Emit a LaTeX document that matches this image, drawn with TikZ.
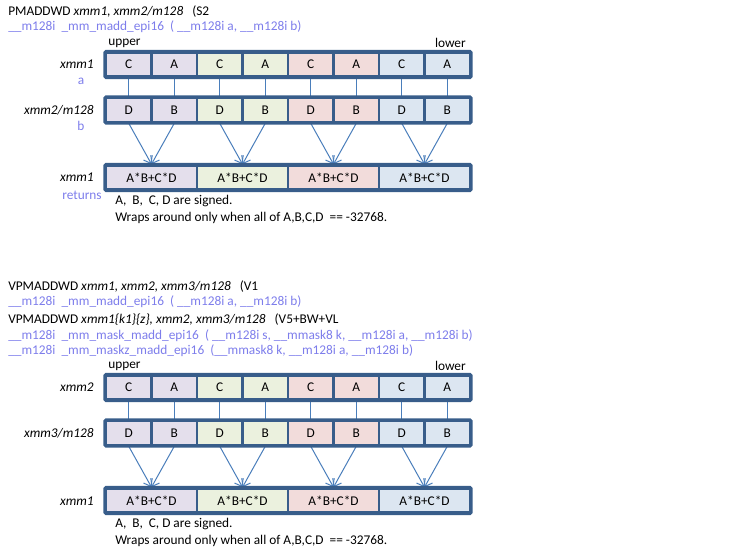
\documentclass[tikz,border=0pt]{standalone}
\usepackage{fontspec}
\setmainfont{Carlito}
\usetikzlibrary{arrows.meta}
\definecolor{boxline}{HTML}{385D8A}
\definecolor{conn}{HTML}{4A7EBB}
\definecolor{cpur}{HTML}{E4DFEC}
\definecolor{cgrn}{HTML}{EBF1DE}
\definecolor{cpnk}{HTML}{F2DCDB}
\definecolor{cblu}{HTML}{DCE6F1}
\definecolor{apitext}{RGB}{125,125,235}
\begin{document}
\begin{tikzpicture}[x=0.75pt,y=-0.75pt, font=\fontsize{10}{12}\selectfont,
 cell/.style={draw=boxline, line width=2pt, minimum width=34.125pt, minimum height=18pt, inner sep=0pt},
 wcell/.style={cell, minimum width=68.25pt},
 frame/.style={draw=boxline, line width=2pt, rounded corners=1pt},
 txt/.style={anchor=west, inner sep=0pt},
 api/.style={txt, text=apitext},
 reglabel/.style={anchor=east, inner sep=0pt, font=\fontsize{10}{12}\selectfont\itshape},
 sublabel/.style={inner sep=0pt, text=apitext},
 link/.style={draw=conn, line width=0.75pt},
 arr/.style={link, -{Straight Barb[length=5pt,width=7.5pt]}}
]
\useasboundingbox (0,0) rectangle (756,556);

% texts block 1
\node[txt] (t1) at (8,12) {PMADDWD \textit{xmm1, xmm2/m128}\ \ \ (S2};
\node[api] (t2) at (8,27) {\_\_m128i\ \ \_mm\_madd\_epi16\ \ ( \_\_m128i a, \_\_m128i b)};

% texts block 2
\node[txt] (v1) at (8,287) {VPMADDWD \textit{xmm1, xmm2, xmm3/m128}\ \ \ (V1};
\node[api] (v2) at (8,302) {\_\_m128i\ \ \_mm\_madd\_epi16\ \ ( \_\_m128i a, \_\_m128i b)};
\node[txt] (v3) at (8,320) {VPMADDWD \textit{xmm1\{k1\}\{z\}, xmm2, xmm3/m128}\ \ \ (V5+BW+VL};
\node[api] (v4) at (8,336) {\_\_m128i\ \ \_mm\_mask\_madd\_epi16\ \ ( \_\_m128i s, \_\_mmask8 k, \_\_m128i a, \_\_m128i b)};
\node[api] (v5) at (8,351) {\_\_m128i\ \ \_mm\_maskz\_madd\_epi16\ \ (\_\_mmask8 k, \_\_m128i a, \_\_m128i b)};

% register labels
\node[reglabel] (la1) at (94,64.5) {xmm1};
\node[sublabel] (sa1) at (81,81) {a};
\node[reglabel] (lb1) at (94,110) {xmm2/m128};
\node[sublabel] (sb1) at (81,126) {b};
\node[reglabel] (lr1) at (94,177.5) {xmm1};
\node[sublabel] (sr1) at (82,195) {returns};

\node[reglabel] (la2) at (94,387.5) {xmm2};
\node[reglabel] (lb2) at (94,433) {xmm3/m128};
\node[reglabel] (lr2) at (94,501) {xmm1};

\foreach \k/\off in {1/0,2/323}{
  \node[txt] (up\k) at (108,43+\off) {upper};
  \node[anchor=east, inner sep=0pt] (lo\k) at (466,43+\off) {lower};
  \foreach \i/\col/\tp/\bt in {1/cpur/C/D,2/cpur/A/B,3/cgrn/C/D,4/cgrn/A/B,5/cpnk/C/D,6/cpnk/A/B,7/cblu/C/D,8/cblu/A/B}{
    \node[cell, fill=\col] (a\k-\i) at ({106+45.5*(\i-0.5)},64.5+\off) {\tp};
    \node[cell, fill=\col] (b\k-\i) at ({106+45.5*(\i-0.5)},110+\off) {\bt};
    \draw[link] (a\k-\i) -- (b\k-\i);
  }
  \foreach \j/\col in {1/cpur,2/cgrn,3/cpnk,4/cblu}{
    \pgfmathtruncatemacro\dd{2*\j-1}
    \pgfmathtruncatemacro\bb{2*\j}
    \node[wcell, fill=\col] (r\k-\j) at ({106+91*(\j-0.5)},177.5+\off) {A*B+C*D};
    \draw[arr] (b\k-\dd.south) -- (r\k-\j.north);
    \draw[arr] (b\k-\bb.south) -- (r\k-\j.north);
  }
  \draw[frame] (a\k-1.north west) rectangle (a\k-8.south east);
  \draw[frame] (b\k-1.north west) rectangle (b\k-8.south east);
  \draw[frame] (r\k-1.north west) rectangle (r\k-4.south east);
  \node[txt] (ns\k) at (115,201.5+\off) {A,\ \ B,\ \ C, D are signed.};
  \node[txt] (nw\k) at (115,218+\off) {Wraps around only when all of A,B,C,D\ \ == -32768.};
}
\end{tikzpicture}
\end{document}
